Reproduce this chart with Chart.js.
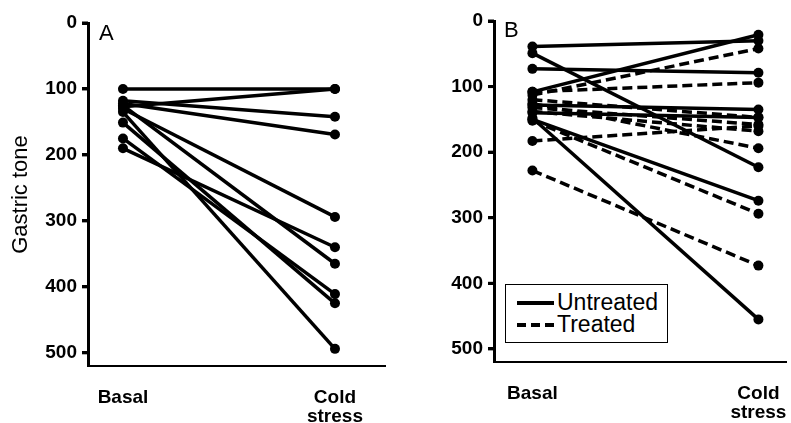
<!DOCTYPE html>
<html>
<head>
<meta charset="utf-8">
<script src="https://cdn.jsdelivr.net/npm/chart.js@4.4.1/dist/chart.umd.min.js"></script>
<style>
html, body { margin: 0; padding: 0; background: #fff; }
#wrap { position: relative; width: 791px; height: 423px; overflow: hidden; font-family: "Liberation Sans", Arial, sans-serif; }
canvas { position: absolute; top: 0; }
#cA { left: 0; }
#cB { left: 395px; }
.tag { position: absolute; font-size: 22px; line-height: 22px; color: #000; }
#legend { position: absolute; left: 505px; top: 284px; width: 161px; height: 57px; border: 1.5px solid #000; background: #fff; }
#legend .row { position: absolute; left: 0; height: 24px; font-size: 23px; line-height: 24px; }
#legend .smp { position: absolute; left: 11px; width: 37px; height: 4px; }
#legend .txt { position: absolute; left: 51px; top: 0; white-space: nowrap; }
</style>
</head>
<body>
<div id="wrap">
  <canvas id="cA" width="395" height="423"></canvas>
  <canvas id="cB" width="396" height="423"></canvas>
  <div class="tag" style="left:99px;top:22px">A</div>
  <div class="tag" style="left:504px;top:19px">B</div>
  <div id="legend">
    <div class="row" style="top:5px"><div class="smp" style="top:11px;background:#000"></div><div class="txt">Untreated</div></div>
    <div class="row" style="top:27px"><div class="smp" style="top:11px;background:repeating-linear-gradient(90deg,#000 0 9px,transparent 9px 14px)"></div><div class="txt">Treated</div></div>
  </div>
</div>
<script>
const FONT = '"Liberation Sans", Arial, sans-serif';
const phases = ['Basal', ['Cold', 'stress']];
const toneTicks = [0, 100, 200, 300, 400, 500];

// panel A: one line per animal
const basalA = [100, 127, 118, 122, 130, 190, 125, 175, 151, 135];
const coldA  = [100, 100, 142, 169, 294, 340, 365, 411, 425, 494];

// panel B
const basalUntreated = [39, 49, 73, 108, 128, 140, 150, 148];
const coldUntreated  = [30, 223, 79, 21, 135, 147, 274, 455];
const basalTreated = [113, 108, 120, 132, 138, 126, 183, 152, 228];
const coldTreated  = [42, 94, 147, 158, 168, 194, 160, 294, 373];

function pairs(basal, cold, dash) {
    return basal.map((b, i) => ({
        data: [{ x: 0, y: b }, { x: 1, y: cold[i] }],
        borderColor: '#000', borderWidth: 3.5, borderDash: dash,
        pointRadius: 5, pointBackgroundColor: '#000', pointBorderWidth: 0,
        clip: false
    }));
}

// short tick marks left of the y axis
const tickMarks = {
    id: 'tickMarks',
    afterDraw(chart) {
        const y = chart.scales.y, ctx = chart.ctx;
        ctx.save();
        ctx.strokeStyle = '#000'; ctx.lineWidth = 3;
        y.ticks.forEach(t => {
            const py = y.getPixelForValue(t.value);
            ctx.beginPath(); ctx.moveTo(y.right - 6, py); ctx.lineTo(y.right, py); ctx.stroke();
        });
        ctx.restore();
    }
};

function toneAxis(width, showTitle) {
    return {
        type: 'linear', reverse: true, min: 0, max: 520,
        afterBuildTicks(s) { s.ticks = toneTicks.map(v => ({ value: v })); },
        afterFit(s) { s.width = width; s.paddingTop = 0; s.paddingBottom = 0; },
        ticks: { color: '#000', font: { size: 19, weight: 'bold', family: FONT }, padding: 5 },
        grid: { display: true, drawOnChartArea: false, drawTicks: true, tickLength: 6, tickWidth: 3, tickColor: '#000' },
        border: { display: true, color: '#000', width: 3 },
        title: { display: showTitle, text: 'Gastric tone', color: '#000', font: { size: 22, family: FONT }, padding: { top: 8, bottom: 0 } }
    };
}

function phaseAxis(min, max, height) {
    return {
        type: 'linear', min, max,
        afterBuildTicks(s) { s.ticks = phases.map((p, i) => ({ value: i })); },
        afterFit(s) { s.height = height; s.paddingLeft = 0; s.paddingRight = 0; },
        ticks: { callback: v => phases[v], color: '#000', font: { size: 19, weight: 'bold', family: FONT, lineHeight: 1.0 }, padding: 22, maxRotation: 0, autoSkip: false },
        grid: { display: false, drawTicks: false },
        border: { display: true, color: '#000', width: 2 }
    };
}

function panel(id, datasets, yWidth, xMin, xMax, xHeight, pad, showTitle) {
    return new Chart(document.getElementById(id), {
        type: 'line',
        data: { datasets },
        options: {
            responsive: false, animation: false, devicePixelRatio: 1,
            layout: { padding: pad },
            plugins: { legend: { display: false }, tooltip: { enabled: false } },
            scales: { x: phaseAxis(xMin, xMax, xHeight), y: toneAxis(yWidth, showTitle) }
        },
        plugins: [tickMarks]
    });
}

panel('cA', pairs(basalA, coldA, []), 88, -0.165, 1.236, 57, { top: 23, right: 10, left: 0, bottom: 0 }, true);
panel('cB', pairs(basalUntreated, coldUntreated, []).concat(pairs(basalTreated, coldTreated, [10, 5])),
      99, -0.17, 1.122, 61, { top: 21, right: 0, left: 0, bottom: 0 }, false);
</script>
</body>
</html>
